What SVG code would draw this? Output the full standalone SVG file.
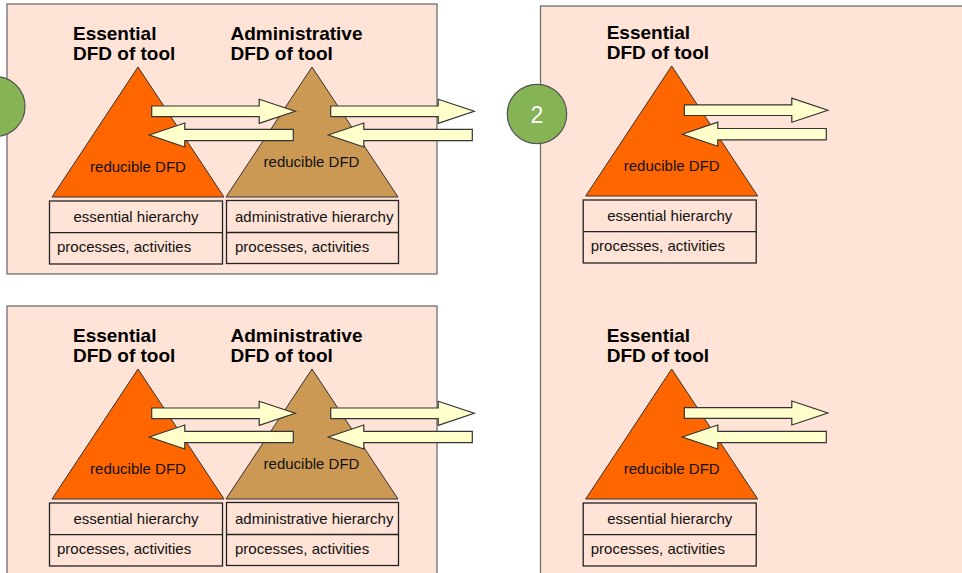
<svg xmlns="http://www.w3.org/2000/svg" xmlns:xlink="http://www.w3.org/1999/xlink" width="962" height="573" viewBox="0 0 962 573">
<style>
.panel{fill:#FEE3D6;stroke:#6f6f6f;stroke-width:1.3}
.tri1{fill:#FF6600;stroke:#333;stroke-width:1}
.tri2{fill:#CC9955;stroke:#333;stroke-width:1}
.box{fill:none;stroke:#222;stroke-width:1.3}
.title{font-family:"Liberation Sans",Arial,sans-serif;font-weight:bold;font-size:19px;fill:#000}
.lbl{font-family:"Liberation Sans",Arial,sans-serif;font-size:15px;fill:#111}
.arr{fill:#FFFFCC;stroke:#333;stroke-width:1.2;stroke-linejoin:miter}
.circ{fill:#86B454;stroke:#555;stroke-width:1.2}
.num{font-family:"Liberation Sans",Arial,sans-serif;font-size:23px;fill:#fff;text-anchor:middle}
</style>
<defs>
<path id="ar" d="M0,-5.3 H107.5 V-12 L143.5,0 L107.5,12 V5.3 H0 Z"/>
<path id="al" d="M0,0 L35.5,-12 V-5.7 H144 V5.7 H35.5 V12 Z"/>
<g id="ess">
<text class="title" x="73" y="40">Essential</text>
<text class="title" x="73" y="60">DFD of tool</text>
<polygon class="tri1" points="138,67 52,197 224,197"/>
<text class="lbl" x="138" y="172" text-anchor="middle">reducible DFD</text>
<rect class="box" x="49.5" y="201" width="173" height="63"/>
<line class="box" x1="49.5" y1="232.7" x2="222.5" y2="232.7"/>
<text class="lbl" x="136" y="221.5" text-anchor="middle">essential hierarchy</text>
<text class="lbl" x="57" y="252">processes, activities</text>
</g>
<g id="adm">
<text class="title" x="230.5" y="40">Administrative</text>
<text class="title" x="230.5" y="60">DFD of tool</text>
<polygon class="tri2" points="312,67 226,197 398,197"/>
<text class="lbl" x="311.5" y="167" text-anchor="middle">reducible DFD</text>
<rect class="box" x="226.5" y="200.5" width="172" height="63"/>
<line class="box" x1="226.5" y1="232.5" x2="398.5" y2="232.5"/>
<text class="lbl" x="235" y="221.5">administrative hierarchy</text>
<text class="lbl" x="235" y="252">processes, activities</text>
</g>
</defs>

<g id="panel-top-left">
<rect class="panel" x="7" y="4" width="430" height="270"/>
</g>
<g id="panel-bottom-left">
<rect class="panel" x="7" y="306" width="430" height="280"/>
</g>
<g id="panel-right">
<rect class="panel" x="540.5" y="6" width="440" height="580"/>
</g>

<g id="essential-top-left"><use xlink:href="#ess"/></g>
<g id="administrative-top-left"><use xlink:href="#adm"/></g>
<g id="essential-bottom-left"><use xlink:href="#ess" transform="translate(0,302)"/></g>
<g id="administrative-bottom-left"><use xlink:href="#adm" transform="translate(0,302)"/></g>
<g id="essential-top-right"><use xlink:href="#ess" transform="translate(533.7,-1)"/></g>
<g id="essential-bottom-right"><use xlink:href="#ess" transform="translate(533.7,302)"/></g>

<g id="connectors" class="arr">
<use xlink:href="#ar" transform="translate(151.7,111.3)"/>
<use xlink:href="#al" transform="translate(149.3,135)"/>
<use xlink:href="#ar" transform="translate(330.7,111.3)"/>
<use xlink:href="#al" transform="translate(328.3,135)"/>
<use xlink:href="#ar" transform="translate(151.7,413.3)"/>
<use xlink:href="#al" transform="translate(149.3,437)"/>
<use xlink:href="#ar" transform="translate(330.7,413.3)"/>
<use xlink:href="#al" transform="translate(328.3,437)"/>
<use xlink:href="#ar" transform="translate(684.3,110.2)"/>
<use xlink:href="#al" transform="translate(682.3,134.2)"/>
<use xlink:href="#ar" transform="translate(684.3,413)"/>
<use xlink:href="#al" transform="translate(682.3,437)"/>
</g>

<g id="circle-1">
<circle class="circ" cx="-5" cy="106.5" r="30"/>
</g>
<g id="circle-2">
<circle class="circ" cx="537" cy="114" r="29.7"/>
<text class="num" x="537" y="122.5">2</text>
</g>
</svg>
